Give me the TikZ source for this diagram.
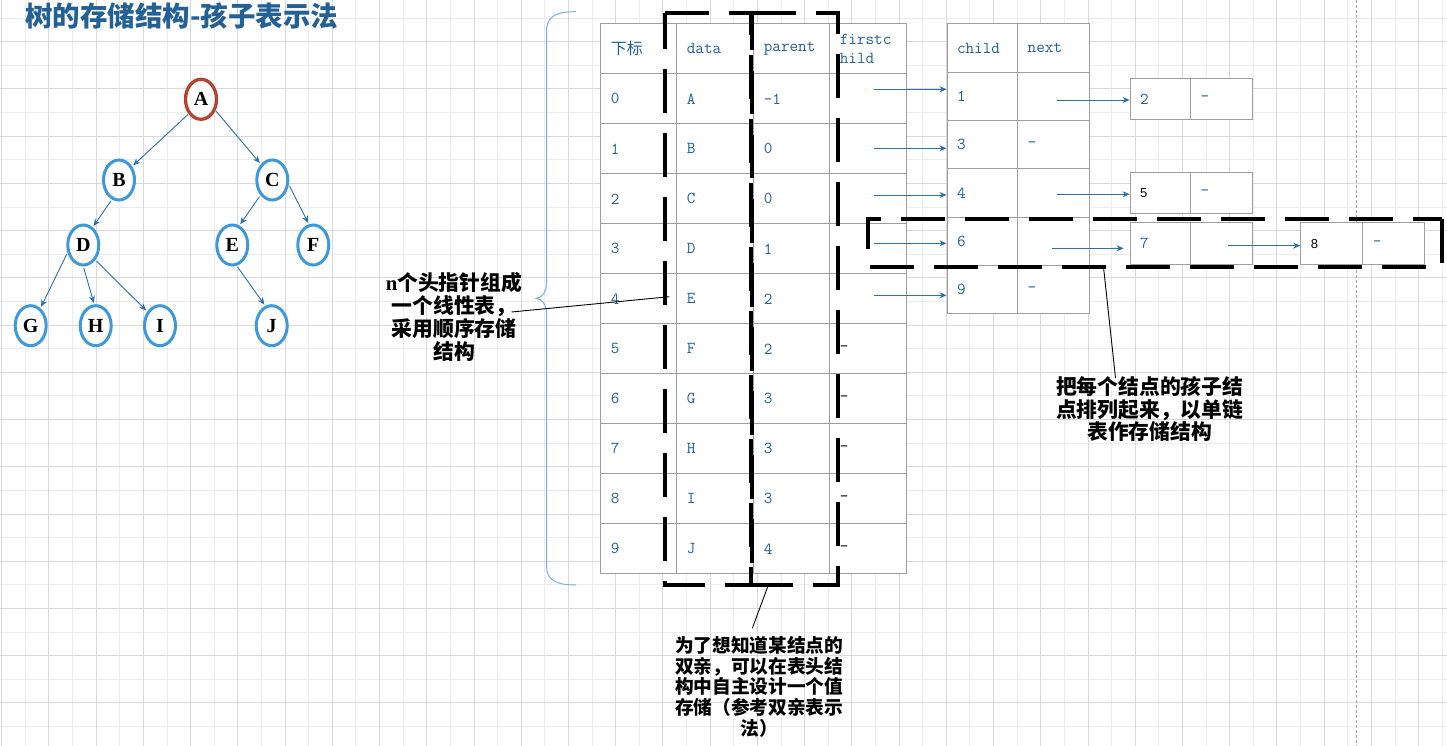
\documentclass[tikz,border=0pt]{standalone}
\usepackage{fontspec}
\usetikzlibrary{arrows.meta,shapes.geometric}
\newfontfamily\cjk{Noto Sans CJK SC}
\newfontfamily\serifb{Liberation Serif}
\newfontfamily\sansn{Liberation Sans}
\definecolor{tblue}{RGB}{34,96,150}
\definecolor{nodeblue}{RGB}{62,152,220}
\definecolor{arrblue}{RGB}{46,112,170}
\definecolor{cellgray}{RGB}{158,158,158}
\definecolor{gridmaj}{RGB}{217,217,217}
\definecolor{gridmin}{RGB}{236,236,236}
\definecolor{bracecol}{RGB}{125,175,230}
\definecolor{redring}{RGB}{225,35,35}
\definecolor{greenring}{RGB}{40,160,70}
\newcommand\mytab{\ttfamily\fontsize{16.7}{19}\selectfont}
\begin{document}
\begin{tikzpicture}[x=1pt,y=-1pt,
 gmaj/.style={draw=gridmaj,line width=1pt},
 gmin/.style={draw=gridmin,line width=1pt},
 tnode/.style={ellipse,draw=nodeblue,line width=3pt,fill=white,minimum width=31pt,minimum height=40pt,inner sep=0pt,font=\serifb\bfseries\fontsize{20}{20}\selectfont},
 tarr/.style={draw=arrblue,line width=0.9pt,shorten >=1.5pt,shorten <=1.5pt,-{Stealth[length=7pt,width=6pt]}},
 parr/.style={draw=arrblue,line width=0.9pt,-{Stealth[length=7pt,width=6pt]}},
 cell/.style={draw=cellgray,fill=white,line width=1pt,anchor=north west,inner xsep=10pt,inner ysep=0pt,align=left,font=\mytab,text=tblue},
 bigdash/.style={draw=black,line width=4pt,dash pattern=on 43.8pt off 20.2pt},
 note/.style={align=center,inner sep=0pt,text=black},
 lead/.style={draw=black,line width=0.9pt},
]
\useasboundingbox (0,0) rectangle (1447,746);
\fill[white] (0,0) rectangle (1447,746);
% grid
\foreach \j in {0,...,30}{\draw[gmin] ({25.315+47.23*\j},0) -- ++(0,746);}
\foreach \j in {0,...,15}{\draw[gmin] (0,{18.09+47.23*\j}) -- ++(1447,0);}
\foreach \j in {0,...,30}{\draw[gmaj] ({1.7+47.23*\j},0) -- ++(0,746);}
\foreach \j in {1,...,15}{\draw[gmaj] (0,{-5.53+47.23*\j}) -- ++(1447,0);}
\draw[draw=gray!70,line width=0.8pt,dash pattern=on 3pt off 2pt] (1356.7,0) -- (1356.7,746);

% title
\node[font=\cjk\bfseries\fontsize{27.5}{30}\selectfont,text=tblue,inner sep=0pt] (title) at (181.7,16) {树的存储结构-孩子表示法};

% tree
\node[tnode,draw=redring,line width=1.3pt,double=greenring,double distance=0.6pt] (A) at (201,99.3) {A};
\node[tnode] (B) at (119,180) {B};
\node[tnode] (C) at (272.3,180) {C};
\node[tnode] (D) at (83.3,245) {D};
\node[tnode] (E) at (232.3,245) {E};
\node[tnode] (F) at (313.3,245) {F};
\node[tnode] (G) at (30.7,325.7) {G};
\node[tnode] (H) at (95.7,325.7) {H};
\node[tnode] (I) at (160,325.7) {I};
\node[tnode] (J) at (271.7,325.7) {J};
\draw[tarr] (A.230) -- (B.46);
\draw[tarr] (A.-37) -- (C.126);
\draw[tarr] (B.250) -- (D.62);
\draw[tarr] (C.232) -- (E.70);
\draw[tarr] (C.-16) -- (F.102);
\draw[tarr] (D.206) -- (G.61);
\draw[tarr] (D.270) -- (H.94);
\draw[tarr] (D.-51) -- (I.132);
\draw[tarr] (E.-78) -- (J.108);

% brace
\draw[draw=bracecol,line width=1pt] (576,11.7) .. controls (556,11.7) and (546.5,16) .. (546.5,32) -- (546.5,284) .. controls (546.5,292) and (542,298) .. (536,298.3) .. controls (542,298.6) and (546.5,305) .. (546.5,313) -- (546.5,566) .. controls (546.5,580) and (556,585) .. (576,585);

% main table
\node[cell,text width=56pt,minimum height=50pt] (hix) at (600.3,23.3) {{\cjk\fontsize{16}{19}\selectfont 下标}};
\node[cell,text width=57pt,minimum height=50pt] (hda) at (676.3,23.3) {data};
\node[cell,text width=56pt,minimum height=50pt] (hpa) at (753.3,23.3) {parent};
\node[cell,text width=57.1pt,minimum height=50pt] (hfc) at (829.3,23.3) {firstc\\hild};
\foreach \i/\d/\p [evaluate=\i as \yy using 73.3+50*\i] in {0/A/-1,1/B/0,2/C/0,3/D/1,4/E/2,5/F/2,6/G/3,7/H/3,8/I/3,9/J/4}{
 \node[cell,text width=56pt,minimum height=50pt] (ix\i) at (600.3,\yy) {\i};
 \node[cell,text width=57pt,minimum height=50pt] (da\i) at (676.3,\yy) {\d};
 \node[cell,text width=56pt,minimum height=50pt] (pa\i) at (753.3,\yy) {\p};
}
\foreach \i [evaluate=\i as \yy using 73.3+50*\i] in {0,...,4}{\node[cell,text width=57.1pt,minimum height=50pt] (fc\i) at (829.3,\yy) {};}
\foreach \i [evaluate=\i as \yy using 73.3+50*\i] in {5,...,9}{\node[cell,text width=57.1pt,minimum height=50pt,text=black] (fc\i) at (829.3,\yy) {-};}

% child table
\node[cell,text width=50.7pt,minimum height=48.33pt] (chh) at (946.5,23.3) {child};
\node[cell,text width=51.9pt,minimum height=48.33pt] (nxh) at (1017.2,23.3) {next};
\node[cell,text width=50.7pt,minimum height=48.33pt] (c1) at (946.5,71.63) {1};
\node[cell,text width=51.9pt,minimum height=48.33pt] (n1) at (1017.2,71.63) {};
\node[cell,text width=50.7pt,minimum height=48.33pt] (c3) at (946.5,119.96) {3};
\node[cell,text width=51.9pt,minimum height=48.33pt] (n3) at (1017.2,119.96) {-};
\node[cell,text width=50.7pt,minimum height=48.33pt] (c4) at (946.5,168.29) {4};
\node[cell,text width=51.9pt,minimum height=48.33pt] (n4) at (1017.2,168.29) {};
\node[cell,text width=50.7pt,minimum height=48.33pt] (c6) at (946.5,216.62) {6};
\node[cell,text width=51.9pt,minimum height=48.33pt] (n6) at (1017.2,216.62) {};
\node[cell,text width=50.7pt,minimum height=48.33pt] (c9) at (946.5,264.95) {9};
\node[cell,text width=51.9pt,minimum height=48.33pt] (n9) at (1017.2,264.95) {-};

% small boxes
\node[cell,text width=40.6pt,minimum height=41.3pt] (b2a) at (1129.6,77.7) {2};
\node[cell,text width=42.2pt,minimum height=41.3pt] (b2b) at (1190.2,77.7) {-};
\node[cell,text width=40.6pt,minimum height=41.6pt,text=black,font=\sansn\fontsize{13}{15}\selectfont] (b5a) at (1129.6,171.7) {5};
\node[cell,text width=42.2pt,minimum height=41.6pt] (b5b) at (1190.2,171.7) {-};
\node[cell,text width=40.6pt,minimum height=42pt] (b7a) at (1129.6,222.3) {7};
\node[cell,text width=42.2pt,minimum height=42pt] (b7b) at (1190.2,222.3) {};
\node[cell,text width=42.1pt,minimum height=42pt,text=black,font=\sansn\fontsize{13}{15}\selectfont] (b8a) at (1300.3,222.3) {8};
\node[cell,text width=41.1pt,minimum height=42pt] (b8b) at (1362.4,222.3) {-};

% pointer arrows
\coordinate (f0s) at (874.2,89.3);
\coordinate (f1s) at (874.2,148.3);
\coordinate (f2s) at (874.2,195);
\coordinate (f3s) at (874.2,243.3);
\coordinate (f4s) at (874.2,295.3);
\draw[parr] (f0s) -- (f0s -| c1.west);
\draw[parr] (f1s) -- (f1s -| c3.west);
\draw[parr] (f2s) -- (f2s -| c4.west);
\draw[parr] (f3s) -- (f3s -| c6.west);
\draw[parr] (f4s) -- (f4s -| c9.west);
\coordinate (n1s) at (1057.3,100);
\coordinate (n4s) at (1057.3,194.3);
\coordinate (n6s) at (1052,248.3);
\coordinate (b7s) at (1228.4,245.7);
\draw[parr] (n1s) -- (n1s -| b2a.west);
\draw[parr] (n4s) -- (n4s -| b5a.west);
\draw[parr,shorten >=6pt] (n6s) -- (n6s -| b7a.west);
\draw[parr] (b7s) -- (b7s -| b8a.west);

% dashed frames
\draw[bigdash] (665,12.7) -- (750.5,12.7) -- (750.5,585.3) -- (665,585.3) -- cycle;
\draw[bigdash] (752,12.7) -- (838.3,12.7) -- (838.3,585.3) -- (752,585.3) -- cycle;
\draw[bigdash] (1442.2,219) -- (1442.2,266.7) -- (867.5,266.7) -- (867.5,219) -- cycle;

% notes
\node[note,font=\cjk\bfseries\fontsize{20.8}{22.9}\selectfont] (note1) at (454,316.7) {{\serifb\bfseries n}个头指针组成\\一个线性表，\\采用顺序存储\\结构};
\node[note,font=\cjk\bfseries\fontsize{18.7}{20.8}\selectfont] (note2) at (759.2,686.7) {为了想知道某结点的\\双亲，可以在表头结\\构中自主设计一个值\\存储（参考双亲表示\\法）};
\node[note,font=\cjk\bfseries\fontsize{20.8}{22.8}\selectfont] (note3) at (1149.7,409) {把每个结点的孩子结\\点排列起来，以单链\\表作存储结构};
\coordinate (l1a) at (511.5,312);
\coordinate (l1b) at (669.3,296.7);
\coordinate (l2a) at (767.7,586.7);
\coordinate (l2b) at (752.3,628.3);
\coordinate (l3a) at (1103.5,267);
\coordinate (l3b) at (1115.5,378);
\draw[lead] (l1a) -- (l1b);
\draw[lead] (l2a) -- (l2b);
\draw[lead] (l3a) -- (l3b);
\end{tikzpicture}
\end{document}
